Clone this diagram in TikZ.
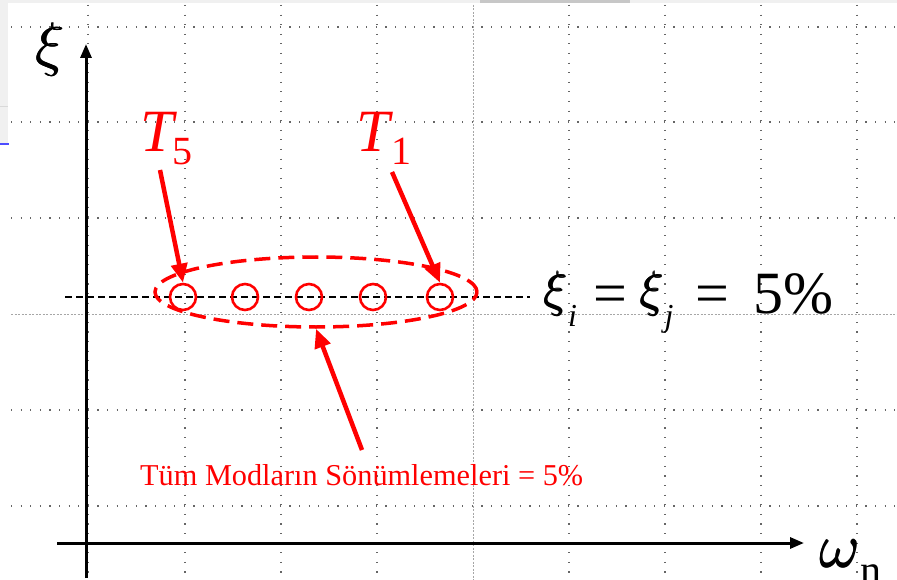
\RequirePackage{fix-cm}
\documentclass[tikz,border=0pt]{standalone}
\usepackage{fontspec}
\setmainfont{Liberation Serif}
\usetikzlibrary{arrows.meta,shapes.geometric}
\tikzset{
  griddot/.style={draw=black!60, line width=1.1pt, dash pattern=on 1.1pt off 8.5pt},
  gridlight/.style={draw=black!35, line width=0.8pt, dash pattern=on 2pt off 1.5pt},
  axisline/.style={line width=3pt, -{Triangle[length=14pt,width=11pt]}},
  redarrow/.style={red, line width=4.5pt, -{Triangle[length=19pt,width=16pt]}},
  mode/.style={circle, draw=red, line width=2.6pt, minimum size=26pt, inner sep=0pt},
  envelope/.style={ellipse, draw=red, line width=3.5pt, dash pattern=on 16pt off 8pt, minimum width=322pt, minimum height=70pt, inner sep=0pt},
  refline/.style={line width=1.3pt, dash pattern=on 7pt off 4pt},
  plain/.style={anchor=base west, inner sep=0pt}
}
\newcommand{\thick}[1]{\makebox[0pt][l]{#1}\hspace{0.6pt}\makebox[0pt][l]{\raisebox{0.4pt}{#1}}\hspace{0.5pt}#1}
\newcommand{\bigxi}[1]{{\fontsize{#1}{#1}\selectfont\thick{$\xi$}}}
\newcommand{\subtxt}[1]{\raisebox{-13pt}{\fontsize{32}{32}\selectfont\textit{#1}}}
\begin{document}
\begin{tikzpicture}[x=1pt,y=-1pt]
\useasboundingbox (0,0) rectangle (897,580);
\fill[white] (0,0) rectangle (897,580);
% screenshot remnants
\fill[black!6] (0,0) rectangle (897,3.5);
\fill[black!22] (480,0) rectangle (630,3.5);
\fill[black!6] (0,0) rectangle (8,143);
\draw[black!15, line width=0.8pt] (0,106) -- (8,106);
\draw[blue!70, line width=1.3pt] (0,144) -- (9,144);
% grid
\foreach \x in {88,185,281,377,569,665,761,857} \draw[griddot] (\x,5) -- (\x,580);
\draw[gridlight] (473,5) -- (473,580);
\foreach \y in {27,122,218,410,506} \draw[griddot] (11,\y) -- (897,\y);
\draw[gridlight] (11,314) -- (897,314);
% axes
\coordinate (ybot) at (86,578);
\coordinate (ytop) at (86,44);
\coordinate (xleft) at (57,543);
\coordinate (xright) at (804,543);
\draw[axisline] (ybot) -- (ytop);
\draw[axisline] (xleft) -- (xright);
\node[plain] (xi) at (35,65) {\bigxi{60}};
\node[plain] (wn) at (819,567) {{\fontsize{62}{62}\selectfont\thick{$\omega$}}\raisebox{-17pt}{\fontsize{42}{42}\selectfont n}};
% reference damping line
\coordinate (dl) at (65,297);
\coordinate (dr) at (530,297);
\draw[refline] (dl) -- (dr);
\node[plain] (eq) at (543,313) {\fontsize{60}{60}\selectfont\raisebox{7pt}{\bigxi{50}}\subtxt{i}\hspace{17pt}=\hspace{12pt}\raisebox{7pt}{\bigxi{50}}\subtxt{j}\hspace{22pt}=\hspace{24pt}5\%};
% modes
\node[envelope] (env) at (316,292) {};
\node[mode] (c5) at (183,297) {};
\node[mode] (c4) at (245,297) {};
\node[mode] (c3) at (309,297) {};
\node[mode] (c2) at (373,297) {};
\node[mode] (c1) at (440,297) {};
% labels
\node[plain, red] (T5) at (140,152) {\fontsize{60}{60}\selectfont\textit{T}\kern-5pt\raisebox{-13pt}{\fontsize{40}{40}\selectfont 5}};
\node[plain, red] (T1) at (356,152) {\fontsize{60}{60}\selectfont\textit{T}\kern-2pt\raisebox{-13pt}{\fontsize{40}{40}\selectfont 1}};
\node[plain, red] (note) at (140,485) {\fontsize{30.3}{30.3}\selectfont Tüm Modların Sönümlemeleri = 5\%};
\coordinate (t5tail) at (160,170);
\coordinate (t1tail) at (392,172);
\coordinate (notetail) at (362,450);
\draw[redarrow] (t5tail) -- (c5.north);
\draw[redarrow] (t1tail) -- (c1.north);
\draw[redarrow] (notetail) -- (env.south);
\end{tikzpicture}
\end{document}
